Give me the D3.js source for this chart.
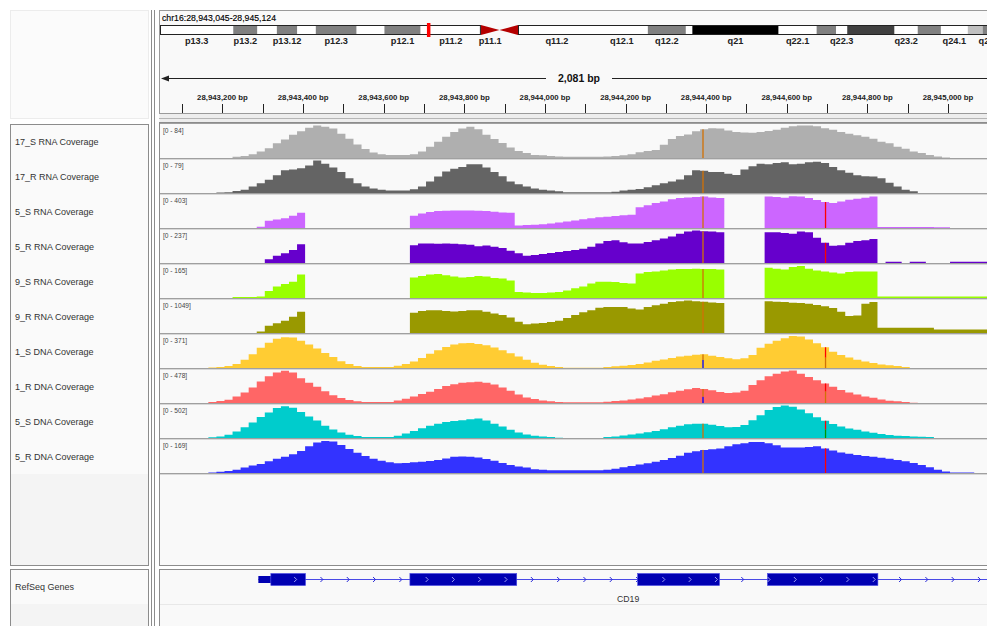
<!DOCTYPE html>
<html>
<head>
<meta charset="utf-8">
<script src="https://cdn.jsdelivr.net/npm/d3@7"></script>
<style>
  body { margin: 0; background: #fff; }
  svg { display: block; font-family: "Liberation Sans", Arial, Helvetica, sans-serif; }
</style>
</head>
<body>
<svg id="chart" width="987" height="626"></svg>
<script>
// ---- view / locus ----
const locusText = "chr16:28,943,045-28,945,124";
const viewStart = 28943045;
const viewEnd = 28945124;
const binStart = 28943045;
const binSize = 20;

// ---- tracks ----
const trackNames = ["17_S RNA Coverage", "17_R RNA Coverage", "5_S RNA Coverage", "5_R RNA Coverage",
  "9_S RNA Coverage", "9_R RNA Coverage", "1_S DNA Coverage", "1_R DNA Coverage",
  "5_S DNA Coverage", "5_R DNA Coverage"];
const trackMax = [84, 79, 403, 237, 165, 1049, 371, 478, 502, 169];

// coverage per 20 bp bin, starting at binStart
const cov17S = [0,0,0,0,0,0,0,0,0,
  3,5,10,17,25,38,48,60,69,78,84,
  81,76,63,50,35,23,14,10,8,8,
  8,10,17,29,42,55,67,76,81,74,
  60,49,39,27,18,13,8,7,5,4,
  3,3,3,3,3,4,5,7,10,15,
  18,21,34,49,57,61,69,74,77,76,
  71,67,66,65,67,70,73,78,82,84,
  84,82,77,73,67,63,59,55,50,42,
  38,29,24,17,13,8,4,1,0,0,
  0,0,0,0];
const cov17R = [0,0,0,0,0,0,0,1,2,5,
  8,16,24,32,43,55,57,60,67,79,
  71,62,51,36,24,16,11,8,6,6,
  6,9,16,28,40,52,59,63,70,70,
  62,51,41,28,21,16,11,8,6,4,
  2,2,2,2,2,2,3,6,8,10,
  14,19,24,28,33,43,55,54,51,51,
  47,44,57,65,71,70,73,75,70,71,
  75,76,73,63,55,49,43,41,40,36,
  25,16,8,4,0,0,0,0,0,0,
  0,0,0,0];
const cov5S = [0,0,0,0,0,0,0,0,0,0,
  0,0,16,89,105,121,153,189,0,0,
  0,0,0,0,0,0,0,0,0,0,
  0,153,181,197,210,214,218,218,218,214,
  210,202,193,189,32,36,40,48,56,69,
  81,93,109,121,133,141,149,157,165,258,
  282,310,330,355,371,379,383,391,379,371,
  0,0,0,0,0,391,383,375,395,391,
  371,347,322,310,330,351,363,375,391,12,
  12,12,12,12,12,12,8,8,0,0,
  0,0,0,0];
const cov5R = [0,0,0,0,0,0,0,0,0,0,
  0,0,0,28,52,71,95,137,0,0,
  0,0,0,0,0,0,0,0,0,0,
  0,130,142,142,140,142,140,137,133,123,
  128,119,109,90,71,52,59,66,73,81,
  88,95,104,119,142,161,166,152,142,142,
  154,166,178,194,213,230,237,232,230,225,
  0,0,0,0,0,225,225,218,213,230,
  225,185,147,126,130,147,161,166,175,0,
  9,9,0,9,9,0,0,0,9,9,
  9,9,9,9];
const cov9S = [0,0,0,0,0,0,0,0,0,5,
  5,5,7,36,58,71,83,119,0,0,
  0,0,0,0,0,0,0,0,0,0,
  0,104,112,119,122,116,109,104,106,112,
  109,102,99,89,30,28,26,26,28,31,
  38,50,59,73,83,83,81,76,74,125,
  132,135,140,145,147,147,149,147,147,145,
  0,0,0,0,0,153,149,145,157,162,
  149,140,135,129,125,132,135,135,135,8,
  8,8,8,8,8,8,8,8,8,8,
  8,8,8,8];
const cov9R = [0,0,0,0,0,0,0,0,0,0,
  0,0,52,231,315,399,525,682,0,0,
  0,0,0,0,0,0,0,0,0,0,
  0,650,713,734,734,713,692,713,734,734,
  682,629,577,504,367,283,304,325,357,399,
  483,577,671,734,818,839,839,839,787,755,
  839,892,944,997,1028,1049,1028,1007,986,965,
  0,0,0,0,0,1028,1007,997,976,965,
  944,902,860,808,682,545,566,944,997,168,
  168,168,168,168,168,168,115,115,115,115,
  115,115,115,115];
const cov1SD = [0,0,0,0,0,0,7,11,22,45,
  93,156,230,289,334,352,349,312,267,223,
  171,126,78,45,22,11,11,11,11,26,
  45,74,115,163,204,241,267,282,286,275,
  260,234,204,167,130,93,59,37,22,11,
  4,4,4,4,4,11,19,26,33,45,
  63,82,96,115,130,141,152,156,141,126,
  111,100,111,148,230,278,312,341,364,360,
  326,282,237,186,148,119,93,74,56,41,
  30,22,11,0,0,0,0,0,0,0,
  0,0,0,0];
const cov1RD = [0,0,0,0,0,0,14,29,48,96,
  153,229,315,392,449,473,449,363,296,239,
  172,115,72,43,24,14,14,14,14,38,
  62,96,134,167,206,249,277,296,306,311,
  296,272,229,182,124,81,57,38,24,14,
  10,10,10,10,10,19,29,38,53,67,
  86,110,129,158,182,201,220,206,186,163,
  148,153,182,263,335,392,430,464,478,430,
  382,335,287,239,191,153,124,96,76,53,
  33,24,14,5,0,0,0,0,0,0,
  0,0,0,0];
const cov5SD = [0,0,0,0,0,0,10,25,50,100,
  166,241,326,392,462,492,467,402,331,271,
  191,131,85,50,30,15,15,15,15,35,
  70,110,151,191,221,246,261,276,291,301,
  271,221,176,126,85,55,35,25,15,5,
  0,0,0,0,0,15,25,40,55,70,
  90,110,136,166,191,211,221,221,206,186,
  166,171,201,276,351,432,477,502,482,442,
  382,321,266,216,176,146,126,100,80,60,
  45,35,30,25,20,15,0,0,0,0,
  0,0,0,0];
const cov5RD = [0,0,0,0,0,0,3,7,10,17,
  29,39,47,61,74,85,98,115,139,159,
  166,164,145,125,105,88,74,64,56,51,
  52,56,59,63,68,76,85,86,85,81,
  73,64,52,42,34,29,20,17,14,14,
  14,14,14,14,14,17,22,30,37,44,
  51,59,68,78,90,105,113,120,123,128,
  139,149,155,161,161,155,144,132,132,132,
  135,139,128,117,106,100,93,88,85,79,
  74,68,61,52,41,30,17,8,3,3,
  2,0,0,0];
const coverage = [cov17S, cov17R, cov5S, cov5R, cov9S, cov9R, cov1SD, cov1RD, cov5SD, cov5RD];

// mismatch sites and base fractions [A, C, G, T] (bottom to top)
const snpSites = [28944392, 28944696];
const snpAlleles = [
  [[0, 0, 1, 0], null],
  [[0, 0, 1, 0], null],
  [[0, 0, 1, 0], [0, 0, 0, 1]],
  [[0, 0, 1, 0], [0, 0, 0, 1]],
  [[0, 0, 1, 0], null],
  [[0, 0, 1, 0], null],
  [[0, 0.6, 0.4, 0], [0, 0, 0.5, 0.5]],
  [[0, 0.45, 0.55, 0], [0, 0, 0.6, 0.4]],
  [[0, 0, 1, 0], [0.5, 0, 0, 0.5]],
  [[0, 0, 1, 0], [0, 0, 0, 1]]
];

// ---- cytobands chr16 ----
const chrLength = 90354753;
const bandNames = ["p13.3","p13.2","p13.13","p13.12","p13.11","p12.3","p12.2","p12.1","p11.2","p11.1",
  "q11.1","q11.2","q12.1","q12.2","q13","q21","q22.1","q22.2","q22.3","q23.1","q23.2","q23.3","q24.1","q24.2","q24.3"];
const bandStarts = [0,7900000,10500000,12600000,14800000,16800000,21200000,24200000,28100000,34600000,
  36600000,38600000,47000000,52600000,56700000,57400000,66700000,70800000,72900000,74100000,79200000,81700000,84200000,87100000,88700000];
const bandEnds = [7900000,10500000,12600000,14800000,16800000,21200000,24200000,28100000,34600000,36600000,
  38600000,47000000,52600000,56700000,57400000,66700000,70800000,72900000,74100000,79200000,81700000,84200000,87100000,88700000,90354753];
const bandStains = ["gneg","gpos50","gneg","gpos50","gneg","gpos50","gneg","gpos50","gneg","acen",
  "acen","gvar","gneg","gpos50","gneg","gpos100","gneg","gpos50","gneg","gpos75","gneg","gpos50","gneg","gpos25","gpos50"];
const shownBandLabels = ["p13.3","p13.2","p13.12","p12.3","p12.1","p11.2","p11.1","q11.2","q12.1","q12.2",
  "q21","q22.1","q22.3","q23.2","q24.1","q24.3"];

// ---- gene ----
const geneName = "CD19";
const geneStart = 28943289;
const geneEnd = 28950667;
const cdsStart = 28943320;
const exonStarts = [28943289, 28943665, 28944230, 28944552];
const exonEnds = [28943406, 28943930, 28944433, 28944826];

// ---- styles ----
const trackColors = ["#afafaf", "#646464", "#cc66ff", "#6600cc", "#99ff00", "#999900",
  "#ffcc33", "#ff6666", "#00cccc", "#3333ff"];
const baseColors = ["#009600", "#0000ff", "#d17105", "#ff0000"];
const stainColors = { gneg: "#ffffff", gvar: "#ffffff", gpos25: "#c0c0c0", gpos50: "#808080",
  gpos75: "#404040", gpos100: "#000000", acen: "#b40000" };

const W = 987, H = 626;
const dataLeft = 160, dataRight = 998;
const trackTop = 124, trackH = 35;

const svg = d3.select("#chart");
const x = d3.scaleLinear().domain([viewStart, viewEnd]).range([dataLeft, dataRight]);
const chrX = d3.scaleLinear().domain([0, chrLength]).range([dataLeft, dataRight]);

svg.append("rect").attr("width", W).attr("height", H).attr("fill", "#ffffff");

const defs = svg.append("defs");
defs.append("clipPath").attr("id", "dataClip")
  .append("rect").attr("x", dataLeft).attr("y", 0).attr("width", W - dataLeft).attr("height", H);

// panels
svg.append("rect").attr("x", 10.5).attr("y", 10.5).attr("width", 138).attr("height", 108)
  .attr("fill", "#fbfbfb").attr("stroke", "#ececec");
svg.append("rect").attr("x", 159.5).attr("y", 10.5).attr("width", 840).attr("height", 103)
  .attr("fill", "#f9f9f9").attr("stroke", "#9a9a9a");
svg.append("rect").attr("x", 159.5).attr("y", 114).attr("width", 840).attr("height", 8)
  .attr("fill", "#ededed");
svg.append("line").attr("x1", 159).attr("x2", W).attr("y1", 118.5).attr("y2", 118.5).attr("stroke", "#b5b5b5");

svg.append("rect").attr("x", 159.5).attr("y", 122.5).attr("width", 840).attr("height", 443)
  .attr("fill", "#f9f9f9").attr("stroke", "#8c8c8c");
svg.append("rect").attr("x", 10.5).attr("y", 124.5).attr("width", 138).attr("height", 441)
  .attr("fill", "#f4f4f4").attr("stroke", "#8c8c8c");
svg.append("rect").attr("x", 11).attr("y", 125).attr("width", 137).attr("height", 349)
  .attr("fill", "#fafafa");

svg.append("rect").attr("x", 159.5).attr("y", 569.5).attr("width", 840).attr("height", 70)
  .attr("fill", "#f9f9f9").attr("stroke", "#8c8c8c");
svg.append("line").attr("x1", 160).attr("x2", W).attr("y1", 604.5).attr("y2", 604.5).attr("stroke", "#e8e8e8");
svg.append("rect").attr("x", 10.5).attr("y", 569.5).attr("width", 138).attr("height", 70)
  .attr("fill", "#f4f4f4").attr("stroke", "#8c8c8c");
svg.append("rect").attr("x", 11).attr("y", 570).attr("width", 137).attr("height", 34)
  .attr("fill", "#fafafa");

[151.5, 154.5].forEach(function(lx) {
  svg.append("line").attr("x1", lx).attr("x2", lx).attr("y1", 10).attr("y2", H)
    .attr("stroke", "#8c8c8c");
});

// ---- header: locus + ideogram ----
svg.append("text").attr("x", 162).attr("y", 21).attr("font-size", "8.7px").attr("fill", "#000")
  .attr("stroke", "#000").attr("stroke-width", 0.15)
  .text(locusText);

const ideo = svg.append("g").attr("clip-path", "url(#dataClip)");
const bands = bandNames.map((n, i) => ({ name: n, start: bandStarts[i], end: bandEnds[i], stain: bandStains[i] }));
const ideoY = 25, ideoH = 10;

ideo.selectAll("rect.band")
  .data(bands.filter(b => b.stain !== "acen"))
  .enter().append("rect")
  .attr("class", "band")
  .attr("x", b => chrX(b.start))
  .attr("y", ideoY)
  .attr("width", b => chrX(b.end) - chrX(b.start))
  .attr("height", ideoH)
  .attr("fill", b => stainColors[b.stain]);

// centromere triangles
bands.filter(b => b.stain === "acen").forEach(function(b) {
  const x0 = chrX(b.start), x1 = chrX(b.end);
  const pts = b.name.startsWith("p")
    ? [[x0, ideoY], [x1, ideoY + ideoH / 2], [x0, ideoY + ideoH]]
    : [[x1, ideoY], [x0, ideoY + ideoH / 2], [x1, ideoY + ideoH]];
  ideo.append("polygon").attr("points", pts.map(p => p.join(",")).join(" "))
    .attr("fill", stainColors.acen);
});

// arm outlines
const pEnd = chrX(bands.find(b => b.name === "p11.1").start);
const qStart = chrX(bands.find(b => b.name === "q11.1").end);
ideo.append("rect").attr("x", dataLeft + 0.5).attr("y", ideoY + 0.5)
  .attr("width", pEnd - dataLeft - 1).attr("height", ideoH - 1)
  .attr("fill", "none").attr("stroke", "#222");
ideo.append("rect").attr("x", qStart + 0.5).attr("y", ideoY + 0.5)
  .attr("width", chrX(chrLength) - qStart).attr("height", ideoH - 1)
  .attr("fill", "none").attr("stroke", "#222");

// current view marker
ideo.append("rect").attr("x", chrX(viewStart) - 1.5).attr("y", ideoY - 2)
  .attr("width", 3.5).attr("height", ideoH + 4).attr("fill", "#ff0000");

ideo.selectAll("text.bandlabel")
  .data(bands.filter(b => shownBandLabels.includes(b.name)))
  .enter().append("text")
  .attr("class", "bandlabel")
  .attr("x", b => (chrX(b.start) + chrX(b.end)) / 2)
  .attr("y", 44)
  .attr("text-anchor", "middle")
  .attr("font-size", "9.2px")
  .attr("font-weight", "bold")
  .attr("fill", "#222")
  .text(b => b.name);

// ---- ruler ----
const spanLabel = d3.format(",")(viewEnd - viewStart + 2) + " bp";
const midX = (dataLeft + dataRight) / 2;
const ruler = svg.append("g").attr("clip-path", "url(#dataClip)");
ruler.append("text").attr("x", midX).attr("y", 82).attr("text-anchor", "middle")
  .attr("font-size", "10.5px").attr("font-weight", "bold").attr("fill", "#111")
  .text(spanLabel);
ruler.append("line").attr("x1", dataLeft + 3).attr("x2", midX - 33).attr("y1", 78.5).attr("y2", 78.5)
  .attr("stroke", "#222");
ruler.append("line").attr("x1", midX + 33).attr("x2", dataRight - 3).attr("y1", 78.5).attr("y2", 78.5)
  .attr("stroke", "#222");
ruler.append("polygon").attr("points", `${dataLeft + 1},78.5 ${dataLeft + 9},75.5 ${dataLeft + 9},81.5`)
  .attr("fill", "#222");

const ticks = d3.range(Math.ceil(viewStart / 100) * 100, viewEnd, 100);
ruler.selectAll("line.tick").data(ticks).enter().append("line")
  .attr("class", "tick")
  .attr("x1", d => Math.round(x(d)) + 0.5).attr("x2", d => Math.round(x(d)) + 0.5)
  .attr("y1", 104).attr("y2", 113).attr("stroke", "#222");
ruler.selectAll("text.ticklabel").data(ticks.filter(d => d % 200 === 0)).enter().append("text")
  .attr("class", "ticklabel")
  .attr("x", d => x(d)).attr("y", 100).attr("text-anchor", "middle")
  .attr("font-size", "7.8px").attr("font-weight", "bold").attr("fill", "#222")
  .text(d => d3.format(",")(d) + " bp");

// ---- coverage tracks ----
const tracks = svg.append("g").attr("clip-path", "url(#dataClip)");

coverage.forEach(function(vals, i) {
  const y0 = trackTop + i * trackH;
  const y = d3.scaleLinear().domain([0, trackMax[i]]).range([y0 + 34, y0 + 1.5]);
  const pts = vals.map((v, j) => [binStart + j * binSize, v]);
  pts.push([binStart + vals.length * binSize, vals[vals.length - 1]]);
  const area = d3.area()
    .x(d => x(d[0]))
    .y0(y(0))
    .y1(d => y(d[1]))
    .curve(d3.curveStepAfter);
  tracks.append("path").datum(pts).attr("d", area).attr("fill", trackColors[i]);

  // mismatch bars
  snpSites.forEach(function(pos, s) {
    const fr = snpAlleles[i][s];
    if (!fr) return;
    const total = vals[Math.floor((pos - binStart) / binSize)];
    let acc = 0;
    fr.forEach(function(f, b) {
      if (f <= 0) return;
      tracks.append("rect")
        .attr("x", x(pos) - 0.6).attr("width", 1.3)
        .attr("y", y(total * (acc + f))).attr("height", y(total * acc) - y(total * (acc + f)))
        .attr("fill", baseColors[b]);
      acc += f;
    });
  });

  // separator + range label
  tracks.append("line").attr("x1", dataLeft).attr("x2", W)
    .attr("y1", y0 + trackH - 0.5).attr("y2", y0 + trackH - 0.5).attr("stroke", "#a0a0a0");
  tracks.append("line").attr("x1", dataLeft).attr("x2", W)
    .attr("y1", y0 + trackH + 0.5).attr("y2", y0 + trackH + 0.5).attr("stroke", "#d8d8d8");
  tracks.append("text").attr("x", 163).attr("y", y0 + 8.5)
    .attr("font-size", "6.6px").attr("fill", "#444")
    .text("[0 - " + trackMax[i] + "]");

  svg.append("text").attr("x", 15).attr("y", y0 + trackH / 2 + 3)
    .attr("font-size", "9px").attr("fill", "#333")
    .text(trackNames[i]);
});
tracks.append("line").attr("x1", dataLeft).attr("x2", W)
  .attr("y1", trackTop - 0.5).attr("y2", trackTop - 0.5).attr("stroke", "#a0a0a0");

// ---- gene track ----
svg.append("text").attr("x", 15).attr("y", 590).attr("font-size", "9px").attr("fill", "#333")
  .text("RefSeq Genes");

const gene = svg.append("g").attr("clip-path", "url(#dataClip)");
const gy = 579.5;
gene.append("line").attr("x1", x(geneStart)).attr("x2", x(geneEnd))
  .attr("y1", gy).attr("y2", gy).attr("stroke", "#4a4ae6").attr("stroke-width", 1);

// chevrons along intron line
const chevStep = 26.3;
const chevXs = d3.range(x(geneStart) + 37, W + chevStep, chevStep);
const inExon = px => exonStarts.some((s, k) => px > x(s) && px < x(exonEnds[k]));
gene.selectAll("path.chev").data(chevXs.filter(px => !inExon(px))).enter().append("path")
  .attr("class", "chev")
  .attr("d", px => `M${px - 1.2},${gy - 2.5} L${px + 1.3},${gy} L${px - 1.2},${gy + 2.5}`)
  .attr("fill", "none").attr("stroke", "#2a2ad8").attr("stroke-width", 1);

exonStarts.forEach(function(s, k) {
  const e = exonEnds[k];
  if (s < cdsStart) {
    gene.append("rect").attr("x", x(s)).attr("y", gy - 3.5)
      .attr("width", x(Math.min(cdsStart, e)) - x(s)).attr("height", 7).attr("fill", "#0000b2");
  }
  const cs = Math.max(s, cdsStart);
  if (cs < e) {
    gene.append("rect").attr("x", x(cs)).attr("y", gy - 6)
      .attr("width", x(e) - x(cs)).attr("height", 12).attr("fill", "#0000b2")
      .attr("stroke", "#4a4ae6").attr("stroke-width", 0.6);
  }
});
gene.selectAll("path.echev").data(chevXs.filter(px => inExon(px) && px > x(cdsStart) + 3)).enter().append("path")
  .attr("class", "echev")
  .attr("d", px => `M${px - 1.2},${gy - 2.5} L${px + 1.3},${gy} L${px - 1.2},${gy + 2.5}`)
  .attr("fill", "none").attr("stroke", "#9c9cf0").attr("stroke-width", 1);

const visStart = Math.max(geneStart, viewStart), visEnd = Math.min(geneEnd, viewEnd);
gene.append("text").attr("x", (x(visStart) + x(visEnd)) / 2).attr("y", 602)
  .attr("text-anchor", "middle").attr("font-size", "8.7px").attr("fill", "#333")
  .text(geneName);
</script>
</body>
</html>
